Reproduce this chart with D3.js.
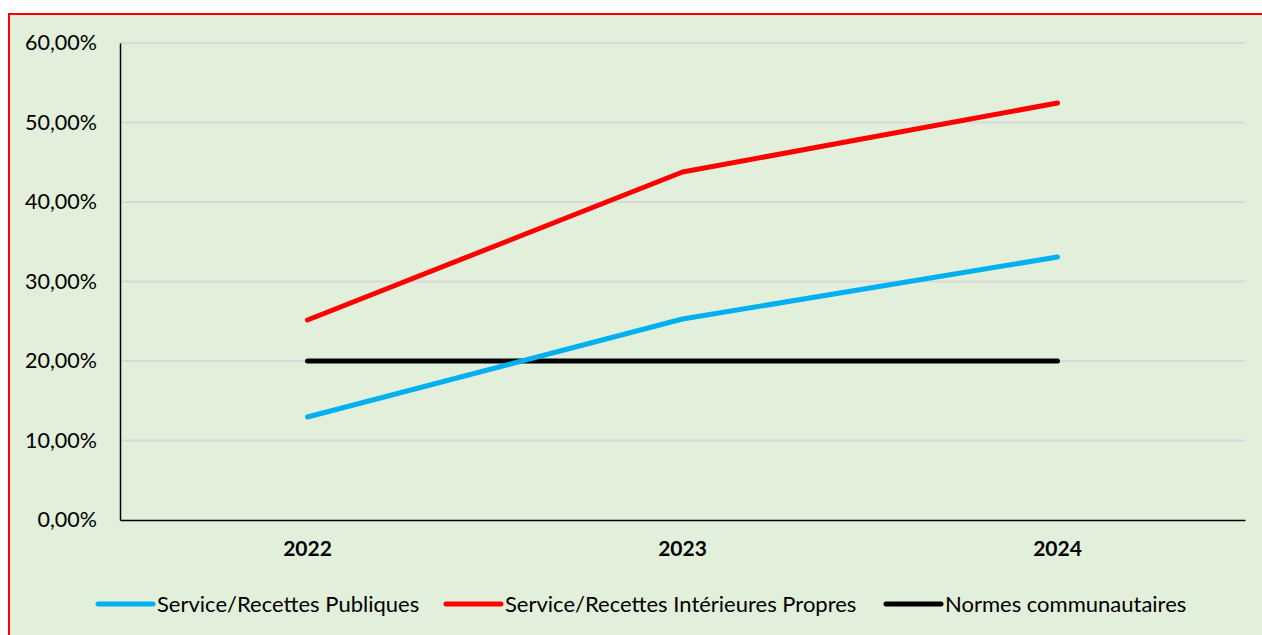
<!DOCTYPE html>
<html>
<head>
<meta charset="utf-8">
<script src="https://cdn.jsdelivr.net/npm/d3@7"></script>
<style>
  html, body { margin: 0; padding: 0; background: #fff; }
  svg { display: block; }
  text { font-family: Lato, "Liberation Sans", sans-serif; fill: #000; }
</style>
</head>
<body>
<svg id="chart" width="1262" height="635"></svg>
<script>
const years = ['2022', '2023', '2024']
const publiques = [0.1296, 0.2528, 0.3308]
const interieures = [0.2516, 0.4377, 0.5245]
const normes = [0.20, 0.20, 0.20]
const yTicks = [0, 0.1, 0.2, 0.3, 0.4, 0.5, 0.6]
const seriesNames = ['Service/Recettes Publiques', 'Service/Recettes Intérieures Propres', 'Normes communautaires']
const seriesColors = ['#00B0F0', '#FF0000', '#000000']

const W = 1262, H = 635
const mLeft = 120, mRight = 1245, mTop = 43, mBottom = 520

const svg = d3.select('#chart')

// background + red frame (right/bottom edges run off the picture)
svg.append('rect')
  .attr('x', 9).attr('y', 14)
  .attr('width', W + 10).attr('height', H + 10)
  .attr('fill', '#E2EFDA')
  .attr('stroke', '#FF0000')
  .attr('stroke-width', 2)

const x = d3.scaleBand().domain(years).range([mLeft, mRight])
const y = d3.scaleLinear().domain([0, 0.6]).range([mBottom, mTop])

const fmt = v => d3.format('.2f')(v * 100).replace('.', ',') + '%'

// gridlines
svg.append('g')
  .selectAll('line')
  .data(yTicks.slice(1))
  .join('line')
    .attr('x1', mLeft).attr('x2', mRight)
    .attr('y1', d => y(d)).attr('y2', d => y(d))
    .attr('stroke', '#D9D9D9')
    .attr('stroke-width', 2)

// y axis
const yAxis = svg.append('g')
  .attr('transform', `translate(${mLeft},0)`)
  .call(d3.axisLeft(y).tickValues(yTicks).tickFormat(fmt).tickSize(0).tickPadding(23))
yAxis.select('.domain').attr('stroke', '#000').attr('stroke-width', 1.5)
yAxis.selectAll('text').attr('font-size', 21.5).attr('font-family', 'Lato, sans-serif')

// x axis
const xAxis = svg.append('g')
  .attr('transform', `translate(0,${mBottom})`)
  .call(d3.axisBottom(x).tickSize(0).tickPadding(21))
xAxis.select('.domain').attr('stroke', '#000').attr('stroke-width', 1.5)
xAxis.selectAll('text').attr('font-size', 21).attr('font-weight', 'bold').attr('font-family', 'Lato, sans-serif')

// lines
const line = d3.line()
  .x((d, i) => x(years[i]) + x.bandwidth() / 2)
  .y(d => y(d))

const allSeries = [publiques, interieures, normes]
// black first, then blue, then red on top
;[2, 0, 1].forEach(k => {
  svg.append('path')
    .datum(allSeries[k])
    .attr('d', line)
    .attr('fill', 'none')
    .attr('stroke', seriesColors[k])
    .attr('stroke-width', 5)
    .attr('stroke-linecap', 'round')
    .attr('stroke-linejoin', 'round')
})

// legend
const legendX = [98, 446, 886]
const legY = 604
const leg = svg.append('g')
  .selectAll('g')
  .data(seriesNames)
  .join('g')
    .attr('transform', (d, i) => `translate(${legendX[i]},${legY})`)
leg.append('line')
  .attr('x1', 0).attr('x2', 55)
  .attr('stroke', (d, i) => seriesColors[i])
  .attr('stroke-width', 5)
  .attr('stroke-linecap', 'round')
leg.append('text')
  .attr('x', 59)
  .attr('dy', '0.35em')
  .attr('font-size', 22)
  .text(d => d)
</script>
</body>
</html>
